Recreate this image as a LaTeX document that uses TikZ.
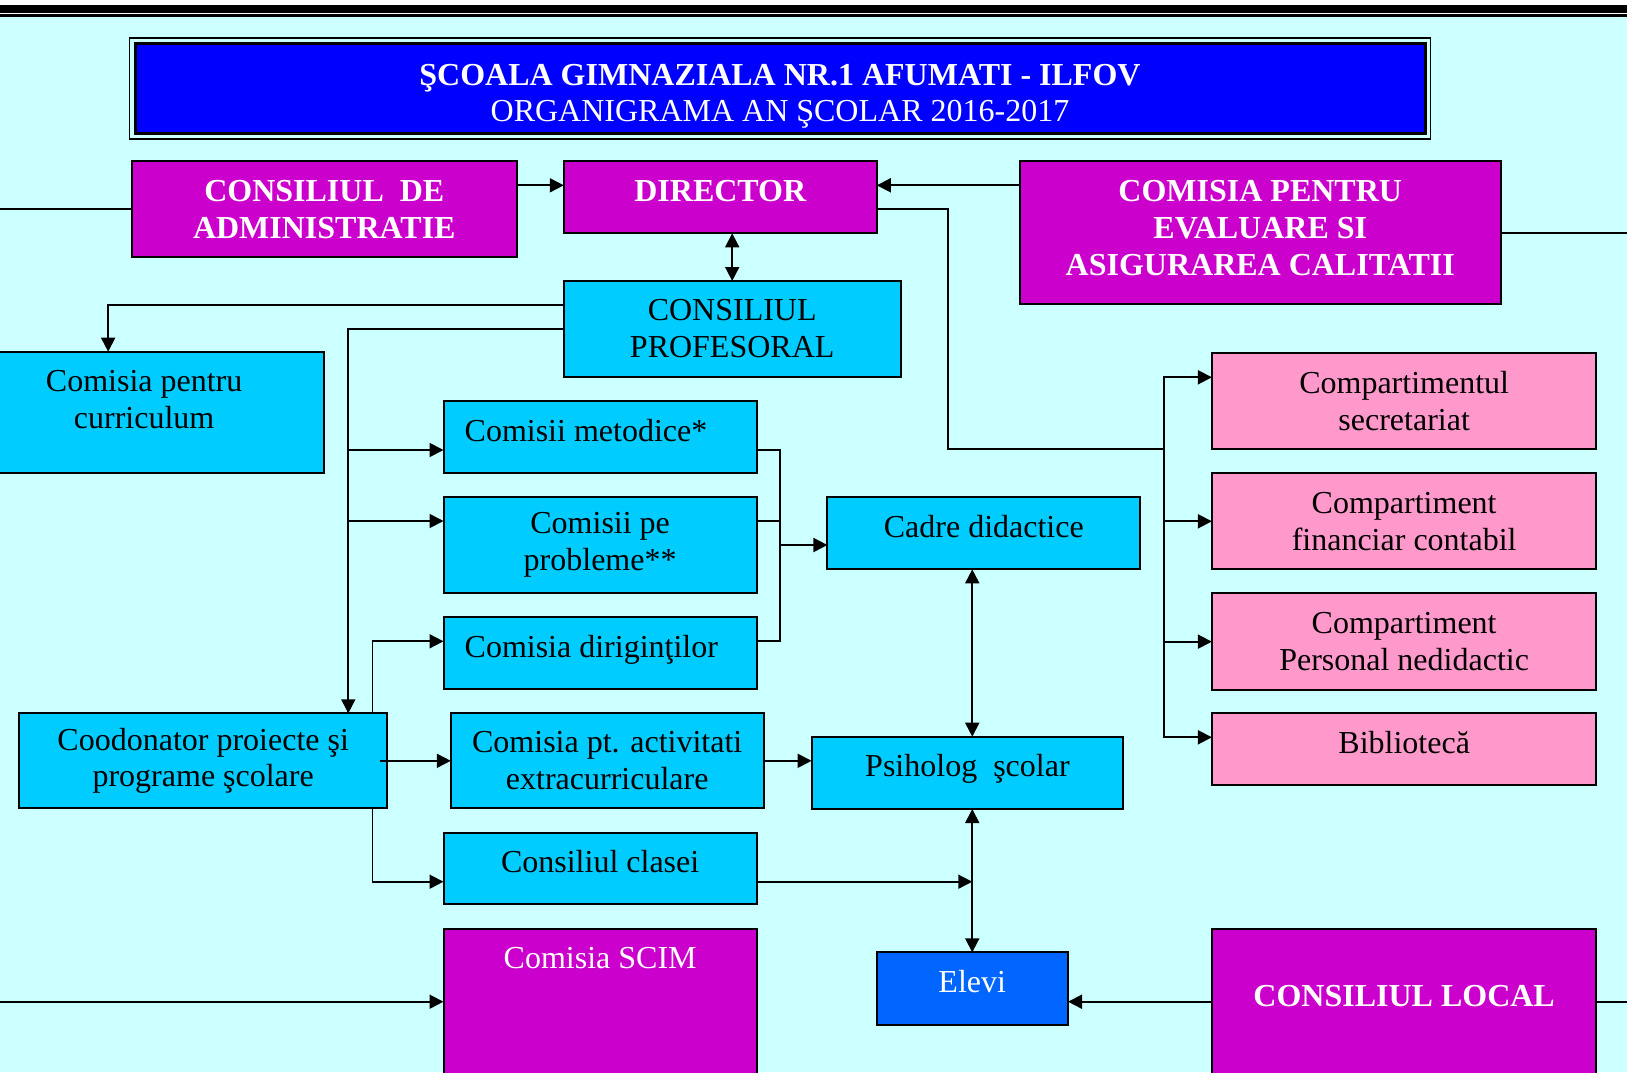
\documentclass[tikz,border=0pt]{standalone}
\usepackage{fontspec}
\setmainfont{Liberation Serif}
\usetikzlibrary{positioning, arrows.meta}

\definecolor{bgcyan}{HTML}{CCFFFF}
\definecolor{boxcyan}{HTML}{00CCFF}
\definecolor{boxmag}{HTML}{CC00CC}
\definecolor{boxpink}{HTML}{FF99CC}
\definecolor{titleblue}{HTML}{0000FF}
\definecolor{elevblue}{HTML}{0066FF}
\newcommand{\orgfont}{\fontsize{32}{36.6}\selectfont}

\begin{document}
\begin{tikzpicture}[
    x=1pt, y=-1pt,
    box/.style={rectangle, draw=black, line width=2pt, inner sep=0pt, outer sep=0pt,
      anchor=north west, align=center, font=\orgfont},
    cyanbox/.style={box, fill=boxcyan},
    magbox/.style={box, fill=boxmag, text=white, font=\orgfont\bfseries},
    pinkbox/.style={box, fill=boxpink},
    titlebox/.style={box, fill=titleblue, line width=3pt, text=white},
    oneline/.style={text height=22pt, text depth=14pt},
    lefttext/.style={align=flush left, text width=271pt, inner xsep=21pt},
    line/.style={draw, line width=1.8pt},
    arr/.style={line, -{Triangle[length=14pt, width=14pt]}},
    dblarr/.style={line, {Triangle[length=14pt, width=14pt]}-{Triangle[length=14pt, width=14pt]}}
  ]
  \useasboundingbox (0,0) rectangle (1627,1072);
  \clip (0,0) rectangle (1627,1072);

  % Background and top rule
  \fill[bgcyan] (0,0) rectangle (1627,1072);
  \fill[white] (0,0) rectangle (1627,5);
  \fill[black] (0,5) rectangle (1627,12.7);
  \fill[white] (0,12.7) rectangle (1627,14.3);
  \fill[black] (0,14.3) rectangle (1627,16.7);

  % Title
  \node[titlebox, minimum width=1290pt, minimum height=90pt, text height=66.4pt, text depth=0pt]
    (title) at (135,43.5) {\textbf{ŞCOALA GIMNAZIALA NR.1 AFUMATI - ILFOV}\\ORGANIGRAMA AN ŞCOLAR 2016-2017};
  \draw[line width=1.5pt] ([shift={(-5.5pt,5.5pt)}]title.north west) rectangle ([shift={(5.5pt,-5.5pt)}]title.south east);

  % Nodes
  \node[magbox, minimum width=385pt, minimum height=96pt] (cda) at (131.8,161.3) {CONSILIUL\ \ DE\\ADMINISTRATIE};
  \node[magbox, oneline, minimum width=313pt, minimum height=72pt] (dir) at (563.8,161.3) {DIRECTOR};
  \node[magbox, minimum width=480.5pt, minimum height=143pt, text height=95.2pt, text depth=10.8pt]
    (eval) at (1020,161.3) {COMISIA PENTRU\\EVALUARE SI\\ASIGURAREA CALITATII};
  \node[cyanbox, minimum width=336.8pt, minimum height=95.7pt] (cp) at (563.8,281) {CONSILIUL\\PROFESORAL};
  \node[cyanbox, minimum width=360.3pt, minimum height=121.6pt, text height=58.6pt, text depth=27pt]
    (cur) at (-36,351.7) {Comisia pentru\\curriculum};

  \node[cyanbox, oneline, lefttext, minimum width=313.3pt, minimum height=72.3pt] (met) at (443.5,401) {Comisii metodice*};
  \node[cyanbox, minimum width=313.3pt, minimum height=96.6pt, below=23.4pt of met] (prob) {Comisii pe\\probleme**};
  \node[cyanbox, oneline, lefttext, minimum width=313.3pt, minimum height=71.7pt, below=24pt of prob] (dirig) {Comisia diriginţilor};
  \node[cyanbox, minimum width=367.6pt, minimum height=95pt] (coord) at (19.4,713.3) {Coodonator proiecte şi\\programe şcolare};
  \node[cyanbox, minimum width=312.8pt, minimum height=95pt] (activ) at (450.8,713.3) {Comisia pt. activitati\\extracurriculare};
  \node[cyanbox, oneline, minimum width=313.3pt, minimum height=71.6pt] (cls) at (443.5,832.7) {Consiliul clasei};
  \node[magbox, font=\orgfont, minimum width=313.3pt, minimum height=160pt, text height=22pt, text depth=102.8pt,
    below=24.4pt of cls] (scim) {Comisia SCIM};

  \node[cyanbox, oneline, minimum width=312.8pt, minimum height=72pt] (cadre) at (827.4,497.3) {Cadre didactice};
  \node[cyanbox, oneline, minimum width=311.7pt, minimum height=72.3pt] (psih) at (811.6,736.7) {Psiholog\ \ şcolar};
  \node[box, oneline, fill=elevblue, text=white, minimum width=191.5pt, minimum height=72.7pt] (elevi) at (876.5,952.3) {Elevi};

  \node[pinkbox, minimum width=384.5pt, minimum height=96pt] (sec) at (1211.9,353.3) {Compartimentul\\secretariat};
  \node[pinkbox, minimum width=384.5pt, minimum height=96pt, below=24pt of sec] (fin) {Compartiment\\financiar contabil};
  \node[pinkbox, minimum width=384.5pt, minimum height=96.7pt, below=24pt of fin] (pers) {Compartiment\\Personal nedidactic};
  \node[pinkbox, oneline, minimum width=384.5pt, minimum height=71.7pt, below=23.3pt of pers] (bib) {Bibliotecă};
  \node[magbox, minimum width=384.5pt, minimum height=160pt, text height=22pt, text depth=28pt] (cl) at (1211.9,929) {CONSILIUL LOCAL};

  % Junctions
  \coordinate (leftedge) at (0,0);
  \coordinate (rightedge) at (1627,0);
  \coordinate (dirturn) at ([xshift=71.3pt]dir.east);
  \coordinate (bus) at ([xshift=-48pt]sec.south west);
  \coordinate (trunk) at ([xshift=-38.7pt]coord.north east);
  \coordinate (mbus) at ([xshift=23.5pt]prob.east);
  \coordinate (clsout) at ([yshift=-49pt]cls.north east);
  \coordinate (clin) at ([yshift=-72.7pt]cl.north west);
  \coordinate (scimin) at ([yshift=-73pt]scim.north west);

  % Paths
  \path[line] (cda.west) -- (cda.west -| leftedge);
  \path[arr] ([yshift=-24pt]cda.north east) -- ([yshift=-24pt]dir.north west);
  \path[arr] ([yshift=-24pt]eval.north west) -- ([yshift=-24pt]dir.north east);
  \path[line] (eval.east) -- (eval.east -| rightedge);
  \path[dblarr] (dir.south -| cp.north) -- (cp.north);
  \path[line] ([yshift=-48pt]dir.north east) -| (dirturn |- bus) -- (bus);
  \path[arr] (bus) |- ([yshift=-24pt]sec.north west);
  \path[arr] (bus) |- (fin.west);
  \path[arr] (bus) |- (pers.west);
  \path[arr] (bus) |- ([yshift=-24pt]bib.north west);

  \path[arr] ([yshift=-24pt]cp.north west) -| ([xshift=-36pt]cur.north);
  \path[arr] (cp.west) -| (trunk);
  \path[arr] (trunk) |- ([yshift=-49pt]met.north west);
  \path[arr] (trunk) |- ([yshift=-24.3pt]prob.north west);
  \path[line] ([yshift=-49pt]met.north east) -| (mbus);
  \path[line] ([yshift=-24.3pt]prob.north east) -| (mbus);
  \path[line] ([yshift=-24pt]dirig.north east) -| (mbus);
  \path[arr] (mbus) -- (mbus -| cadre.west);

  \path[arr] ([xshift=-14.6pt]coord.north east) |- ([yshift=-24pt]dirig.north west);
  \path[arr] ([xshift=-14.6pt]coord.south east) |- (clsout -| cls.west);
  \path[arr] ([xshift=-7pt]coord.east) -- (activ.west);
  \path[arr] (activ.east) -- (activ.east -| psih.west);
  \path[dblarr] (cadre.south -| elevi.north) -- (psih.north -| elevi.north);
  \path[dblarr] (psih.south -| elevi.north) -- (elevi.north);
  \path[arr] (clsout) -- (clsout -| elevi.north);
  \path[arr] (clin) -- (clin -| elevi.east);
  \path[line] (clin -| cl.east) -- (clin -| rightedge);
  \path[arr] (scimin -| leftedge) -- (scimin);
\end{tikzpicture}
\end{document}
